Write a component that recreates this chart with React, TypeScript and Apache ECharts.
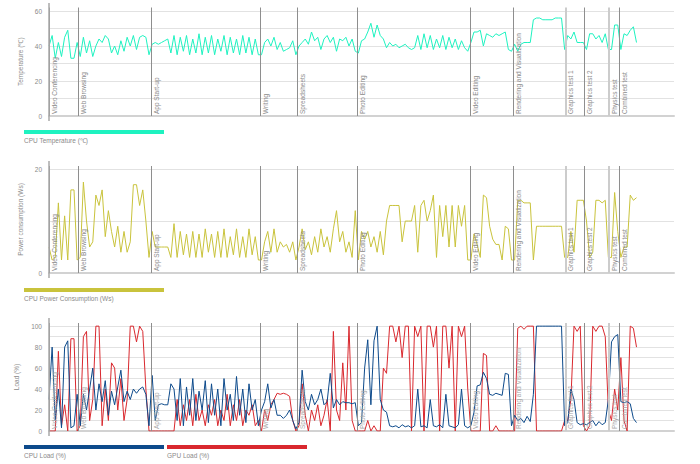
import React, { useEffect, useRef } from "react";
import * as echarts from "echarts";

// one sample every 5 time units; x axis spans 0..1000 units
const SAMPLE_STEP = 5;
const X_MAX = 1000;

const markerNames = [
  "Video Conferencing", "Web Browsing", "App Start-up", "Writing", "Spreadsheets",
  "Photo Editing", "Video Editing", "Rendering and Visualization", "Graphics test 1",
  "Graphics test 2", "Physics test", "Combined test",
];
const markerPositions = [0, 46, 163, 338, 397, 493, 674, 742, 826, 856, 896, 912];
const faintMarkers = ["Graphics test 1", "Physics test"];

const cpuTemperature = [
  // Video Conferencing
  40, 46, 33, 42, 34, 45, 49, 33, 33, 42,
  // Web Browsing
  34, 45, 36, 43, 34, 40, 44, 42, 46, 44, 36, 40, 35, 43, 37, 45, 40, 46, 38, 45, 46, 45, 35,
  // App Start-up
  41, 42, 41, 42, 43, 44, 36, 46, 35, 45, 37, 46, 35, 44, 36, 47, 35, 45, 36, 46, 35, 44, 37, 46, 35, 45, 36, 44, 35, 46, 36, 45, 35, 44, 35,
  // Writing
  35, 42, 44, 40, 45, 38, 42, 37, 38, 39, 43, 35,
  // Spreadsheets
  40, 42, 44, 41, 48, 43, 45, 38, 44, 46, 42, 45, 37, 44, 43, 45, 40, 44, 37,
  // Photo Editing
  36, 43, 44, 48, 53, 45, 52, 46, 44, 39, 42, 40, 41, 39, 40, 41, 39, 38, 39, 46, 38, 47, 39, 46, 38, 44, 39, 46, 38, 45, 39, 44, 38, 43, 39, 37,
  // Video Editing
  42, 48, 48, 49, 40, 47, 46, 45, 47, 46, 47, 48, 38, 37,
  // Rendering and Visualization
  41, 37, 41, 42, 42, 42, 55, 56, 56, 55, 55, 55, 55, 56, 56, 56, 38,
  // Graphics test 1
  46, 44, 48, 42, 42, 42,
  // Graphics test 2
  38, 47, 47, 44, 46, 42, 47, 38,
  // Physics test
  38, 52, 52,
  // Combined test
  38, 47, 46, 49, 51, 42,
];

const cpuPower = [
  5, 2.5, 3, 13.5, 2.5, 11, 2.5, 16, 16, 2.5,
  3, 17.5, 10, 5, 6, 15, 13, 16, 7, 12, 8, 5, 9, 4, 8, 4, 6, 17, 17, 13, 16, 10, 3,
  8, 5, 5, 5, 5, 5, 3, 9.5, 3, 8, 3.5, 7.5, 3, 8, 3, 7.5, 3, 8.5, 4, 7.5, 3, 8, 3, 8.5, 3, 7, 3.5, 8.5, 3, 7, 3, 8.5, 3.5, 7, 2.5,
  2.5, 6, 8, 4, 8.5, 4, 6, 5, 5.5, 4, 6, 2.5,
  5, 8.5, 4.5, 6, 3.5, 7, 4, 8.5, 5, 7, 4, 8.5, 12, 6, 8, 4, 6, 3, 12,
  2.5, 8, 6.5, 8, 5, 7, 4, 8, 3.5, 10, 13, 13, 13, 13, 6, 10, 10, 10, 13, 4, 13, 14, 10, 12, 15, 3, 13, 7, 13, 5, 13, 5, 13, 9, 13, 2.5,
  2.5, 7.5, 5.5, 3, 15, 14.5, 9, 6.5, 5.5, 5.5, 2.5, 9, 8.5, 2.5,
  2.5, 14, 14, 13.5, 13.5, 13.5, 2.5, 9, 9, 9, 9, 9, 9, 9, 9, 9, 3,
  3, 8, 4, 14, 14, 14,
  10, 3, 4, 14, 14, 13.5, 14, 3,
  3, 15.5, 8,
  3, 5, 5, 15, 14, 14.5,
];

const cpuLoad = [
  30, 80, 10, 40, 3, 80, 86, 3, 5, 35,
  5, 35, 20, 40, 60, 20, 45, 28, 48, 15, 38, 25, 42, 58, 28, 38, 30, 40, 36, 40, 42, 35, 5,
  53, 10, 25, 26, 25, 25, 45, 40, 10, 50, 5, 42, 15, 50, 10, 38, 20, 48, 8, 45, 15, 40, 5, 50, 20, 35, 10, 52, 15, 40, 8, 45, 20, 30, 5,
  20, 28, 45, 22, 30, 15, 15, 12, 15, 20, 10, 2,
  8, 58, 28, 20, 35, 25, 30, 40, 25, 28, 55, 22, 30, 25, 28, 27, 27, 26, 27,
  5, 8, 60, 87, 25, 86, 100, 30, 20, 18, 5, 4, 5, 3, 6, 4, 5, 3, 5, 40, 4, 5, 3, 30, 5, 4, 6, 3, 35, 5, 4, 3, 6, 40, 5, 3,
  5, 18, 43, 44, 56, 50, 35, 34, 36, 35, 34, 55, 54, 5,
  15, 10, 12, 8, 14, 9, 35, 100, 100, 100, 100, 100, 100, 100, 100, 100, 5,
  8, 40, 30, 8, 6, 7,
  6, 8, 10, 5, 9, 6, 8, 30,
  85, 90, 92,
  28, 27, 28, 26, 12, 8,
];

const gpuLoad = [
  0, 0, 0, 76, 5, 25, 0, 88, 88, 0,
  5, 90, 95, 10, 30, 100, 100, 5, 40, 10, 65, 60, 20, 50, 10, 30, 100, 100, 85, 100, 95, 40, 0,
  0, 0, 0, 0, 0, 0, 0, 0, 30, 5, 25, 10, 30, 5, 35, 10, 20, 5, 25, 15, 30, 5, 20, 10, 35, 5, 25, 10, 30, 5, 20, 15, 25, 5, 10,
  0, 20, 10, 25, 30, 36, 35, 36, 35, 33, 10, 0,
  5, 45, 15, 0, 20, 10, 25, 5, 15, 30, 0, 95, 20, 10, 65, 20, 100, 10, 0,
  0, 0, 0, 10, 0, 5, 0, 0, 60, 55, 100, 100, 85, 100, 70, 100, 100, 0, 100, 90, 100, 0, 100, 100, 80, 100, 0, 100, 100, 60, 100, 0, 100, 90, 100, 40,
  0, 0, 0, 0, 74, 72, 0, 0, 5, 0, 0, 0, 0, 0,
  0, 98, 100, 97, 100, 100, 100, 0, 0, 0, 0, 0, 0, 0, 0, 0, 10,
  10, 30, 100, 95, 100, 5,
  0, 5, 100, 95, 100, 100, 90, 20,
  10, 40, 20,
  70, 10, 0, 100, 98, 80,
];

const panelNames = ["Temperature (℃)", "Power consumption (Ws)", "Load (%)"];
const panelMax = [62, 20.6, 103];
const legendLabels = ["CPU Temperature (℃)", "CPU Power Consumption (Ws)", "CPU Load (%)", "GPU Load (%)"];

const COLORS = {
  temp: "#1ef2c0",
  power: "#c9c33c",
  cpu: "#0d4a8b",
  gpu: "#d9282e",
};

const FONT = "Liberation Sans, Arial, sans-serif";
const GRID_LEFT = 49;
const GRID_RIGHT = 26;
const GRIDS = [
  { top: 7.5, height: 108.5, gridTop: 11 },
  { top: 166, height: 107, gridTop: 169 },
  { top: 323, height: 108, gridTop: 326 },
];

const toPairs = (values: number[]) => values.map((v, i) => [i * SAMPLE_STEP, v]);

export default function App() {
  const ref = useRef<HTMLDivElement>(null);

  useEffect(() => {
    document.body.style.margin = "0";
    if (!ref.current) return;
    const chart = echarts.init(ref.current, undefined, { renderer: "svg" });

    const markers = markerNames.map((name, i) => ({
      name,
      xAxis: markerPositions[i],
      lineStyle: faintMarkers.includes(name)
        ? { color: "#cccccc", width: 2 }
        : { color: "#8e8e8e", width: 1 },
    }));

    const markerSeries = GRIDS.map((_, g) => ({
      type: "line",
      xAxisIndex: g,
      yAxisIndex: g,
      data: [],
      z: 1,
      silent: true,
      markLine: {
        silent: true,
        animation: false,
        symbol: ["none", "none"],
        lineStyle: { type: "solid" },
        emphasis: { disabled: true },
        label: {
          show: true,
          position: "insideStartBottom",
          formatter: "{b}",
          color: g === 2 ? "#a8a8a8" : "#8a8a8a",
          fontSize: 6.5,
          fontFamily: FONT,
          distance: 2,
        },
        data: markers,
      },
    }));

    const lineSeries = (data: number[], color: string, g: number, z: number) => ({
      type: "line",
      xAxisIndex: g,
      yAxisIndex: g,
      data: toPairs(data),
      symbol: "none",
      showSymbol: false,
      silent: true,
      z,
      lineStyle: { width: 1, color },
      itemStyle: { color },
    });

    const graphics: any[] = [];
    GRIDS.forEach((gr) => {
      const bottom = gr.top + gr.height;
      graphics.push({
        type: "line",
        silent: true,
        shape: { x1: GRID_LEFT, y1: gr.gridTop - 8, x2: GRID_LEFT, y2: bottom + 5 },
        style: { stroke: "#a9a9a9", lineWidth: 1.5 },
        z: 10,
      });
    });
    const legendItems = [
      { label: legendLabels[0], color: COLORS.temp, x: 24, y: 130 },
      { label: legendLabels[1], color: COLORS.power, x: 24, y: 288 },
      { label: legendLabels[2], color: COLORS.cpu, x: 24, y: 445 },
      { label: legendLabels[3], color: COLORS.gpu, x: 167, y: 445 },
    ];
    legendItems.forEach((it) => {
      graphics.push({
        type: "rect",
        silent: true,
        shape: { x: it.x, y: it.y, width: 140, height: 4 },
        style: { fill: it.color },
      });
      graphics.push({
        type: "text",
        silent: true,
        style: {
          text: it.label,
          x: it.x,
          y: it.y + 10,
          fill: "#8a8a8a",
          fontSize: 6.5,
          fontFamily: FONT,
          verticalAlign: "middle",
        },
      });
    });

    chart.setOption({
      animation: false,
      grid: GRIDS.map((gr) => ({
        left: GRID_LEFT,
        right: GRID_RIGHT,
        top: gr.top,
        height: gr.height,
      })),
      xAxis: GRIDS.map((_, g) => ({
        type: "value",
        gridIndex: g,
        min: 0,
        max: X_MAX,
        axisLabel: { show: false },
        axisTick: { show: false },
        splitLine: { show: false },
        axisLine: { show: true, lineStyle: { color: "#d2d2d2", width: 2 } },
      })),
      yAxis: GRIDS.map((_, g) => ({
        type: "value",
        gridIndex: g,
        min: 0,
        max: panelMax[g],
        interval: 10,
        name: panelNames[g],
        nameLocation: "middle",
        nameGap: 21,
        nameTextStyle: { color: "#8a8a8a", fontSize: 6.5, fontFamily: FONT },
        axisLine: { show: false },
        axisTick: { show: false },
        axisLabel: {
          color: "#8a8a8a",
          fontSize: 6.5,
          fontFamily: FONT,
          margin: 7,
          formatter: (v: number) => (Math.abs(v % 20) < 1e-6 ? String(v) : ""),
        },
        splitLine: { show: true, showMaxLine: false, lineStyle: { color: "#e2e2e2", width: 1 } },
      })),
      series: [
        ...markerSeries,
        lineSeries(cpuTemperature, COLORS.temp, 0, 3),
        lineSeries(cpuPower, COLORS.power, 1, 3),
        lineSeries(gpuLoad, COLORS.gpu, 2, 3),
        lineSeries(cpuLoad, COLORS.cpu, 2, 4),
      ],
      graphic: graphics,
    });

    return () => chart.dispose();
  }, []);

  return <div ref={ref} style={{ width: 700, height: 464 }} />;
}
